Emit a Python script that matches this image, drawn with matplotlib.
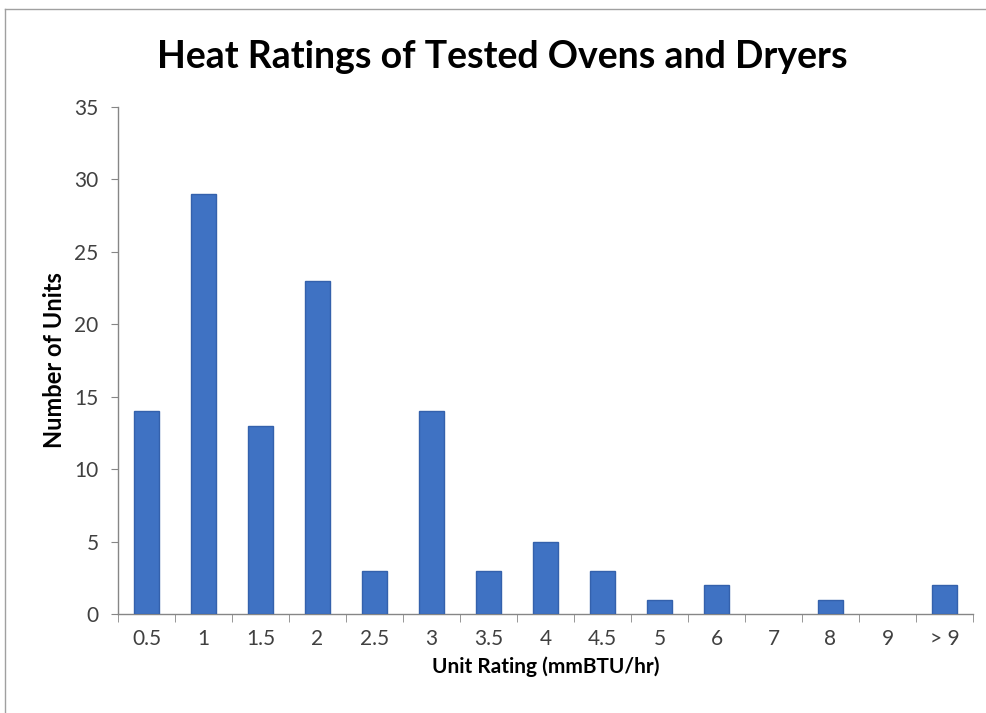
import matplotlib
matplotlib.use("Agg")
import matplotlib.pyplot as plt
from matplotlib.lines import Line2D

categories = ["0.5", "1", "1.5", "2", "2.5", "3", "3.5", "4", "4.5", "5", "6", "7", "8", "9", "> 9"]
counts = [14, 29, 13, 23, 3, 14, 3, 5, 3, 1, 2, 0, 1, 0, 2]
yticks = [0, 5, 10, 15, 20, 25, 30, 35]

plt.rcParams['font.family'] = ['Lato', 'DejaVu Sans']

fig = plt.figure(figsize=(9.87, 7.13), dpi=100)
ax = fig.add_axes([118/987, 99/713, (973-118)/987, (614-107)/713])

x = list(range(len(categories)))
lws = [1.0 if c > 0 else 0.0 for c in counts]
ax.bar(x, counts, width=0.43, color='#3F72C3', edgecolor='#3461AC', linewidth=lws, zorder=3)

ax.set_xlim(-0.5, len(categories) - 0.5)
ax.set_ylim(0, 35)
ax.set_yticks(yticks)
ax.set_yticklabels([str(v) for v in yticks], fontsize=15, color='#404040')
ax.set_xticks(x)
ax.set_xticklabels(categories, fontsize=15, color='#404040')
ax.set_xticks([i - 0.5 for i in range(len(categories) + 1)], minor=True)
ax.tick_params(axis='x', which='major', length=0, pad=11)
ax.tick_params(axis='x', which='minor', length=6, color='#868686', direction='out')
ax.tick_params(axis='y', length=5, color='#868686', direction='out', pad=9)

for s in ['top', 'right']:
    ax.spines[s].set_visible(False)
for s in ['left', 'bottom']:
    ax.spines[s].set_color('#868686')
    ax.spines[s].set_linewidth(1.0)

ax.set_xlabel("Unit Rating (mmBTU/hr)", fontsize=15, fontweight='bold', color='#000000', labelpad=5)
ax.set_ylabel("Number of Units", fontsize=17, fontweight='bold', color='#000000', labelpad=6)

fig.text(502/987, 1 - 57/713, "Heat Ratings of Tested Ovens and Dryers", fontsize=27, fontweight='bold',
         ha='center', va='center', color='#000000')

# outer chart border (top and left)
fig.add_artist(Line2D([5/987, 1.0], [1 - 9/713, 1 - 9/713], color='#A0A0A0', linewidth=1.0))
fig.add_artist(Line2D([5/987, 5/987], [0, 1 - 9/713], color='#A0A0A0', linewidth=1.0))

fig.savefig("out.png", dpi=100)
